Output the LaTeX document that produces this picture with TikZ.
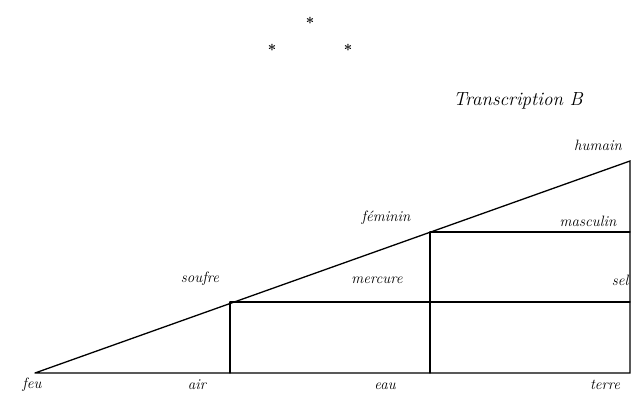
\documentclass[tikz,border=0pt]{standalone}
\usepackage{tikz}
\tikzset{
  lbl/.style={font=\fontsize{15}{17}\selectfont\itshape, inner sep=1pt},
  ttl/.style={font=\fontsize{19}{21}\selectfont\itshape, inner sep=1pt},
  star/.style={font=\fontsize{15}{17}\selectfont\bfseries, inner sep=0pt},
  edge/.style={line width=1.3pt, line cap=round},
}

\begin{document}
\begin{tikzpicture}[x=1pt, y=-1pt]
    \useasboundingbox (0,0) rectangle (631,399);
    % points of the scheme
    \coordinate (feu) at (35,373);
    \coordinate (air) at (230,373);
    \coordinate (eau) at (430,373);
    \coordinate (terre) at (630,373);
    \coordinate (soufre) at (230,302);
    \coordinate (sel) at (630,302);
    \coordinate (feminin) at (430,232);
    \coordinate (masculin) at (630,232);
    \coordinate (humain) at (630,161);
    % stars and title
    \node[star] (s1) at (310,23) {*};
    \node[star] (s2) at (272,50) {*};
    \node[star] (s3) at (348,50) {*};
    \node[ttl] (title) at (518,101) {Transcription B};
    % labels
    \node[lbl] (lfeu) at (32,385) {feu};
    \node[lbl] (lair) at (197,385) {air};
    \node[lbl] (leau) at (385,386) {eau};
    \node[lbl] (lterre) at (605,385) {terre};
    \node[lbl] (lsoufre) at (200,279) {soufre};
    \node[lbl] (lmercure) at (377,280) {mercure};
    \node[lbl] (lsel) at (620,280) {sel};
    \node[lbl] (lfeminin) at (386,218) {féminin};
    \node[lbl] (lmasculin) at (588,221) {masculin};
    \node[lbl] (lhumain) at (598,145) {humain};
    % lines
    \draw[edge] (feu) -- (humain) -- (terre) -- (feu);
    \draw[edge] (soufre) -- (air);
    \draw[edge] (soufre) -- (sel);
    \draw[edge] (feminin) -- (eau);
    \draw[edge] (feminin) -- (masculin);
\end{tikzpicture}
\end{document}
